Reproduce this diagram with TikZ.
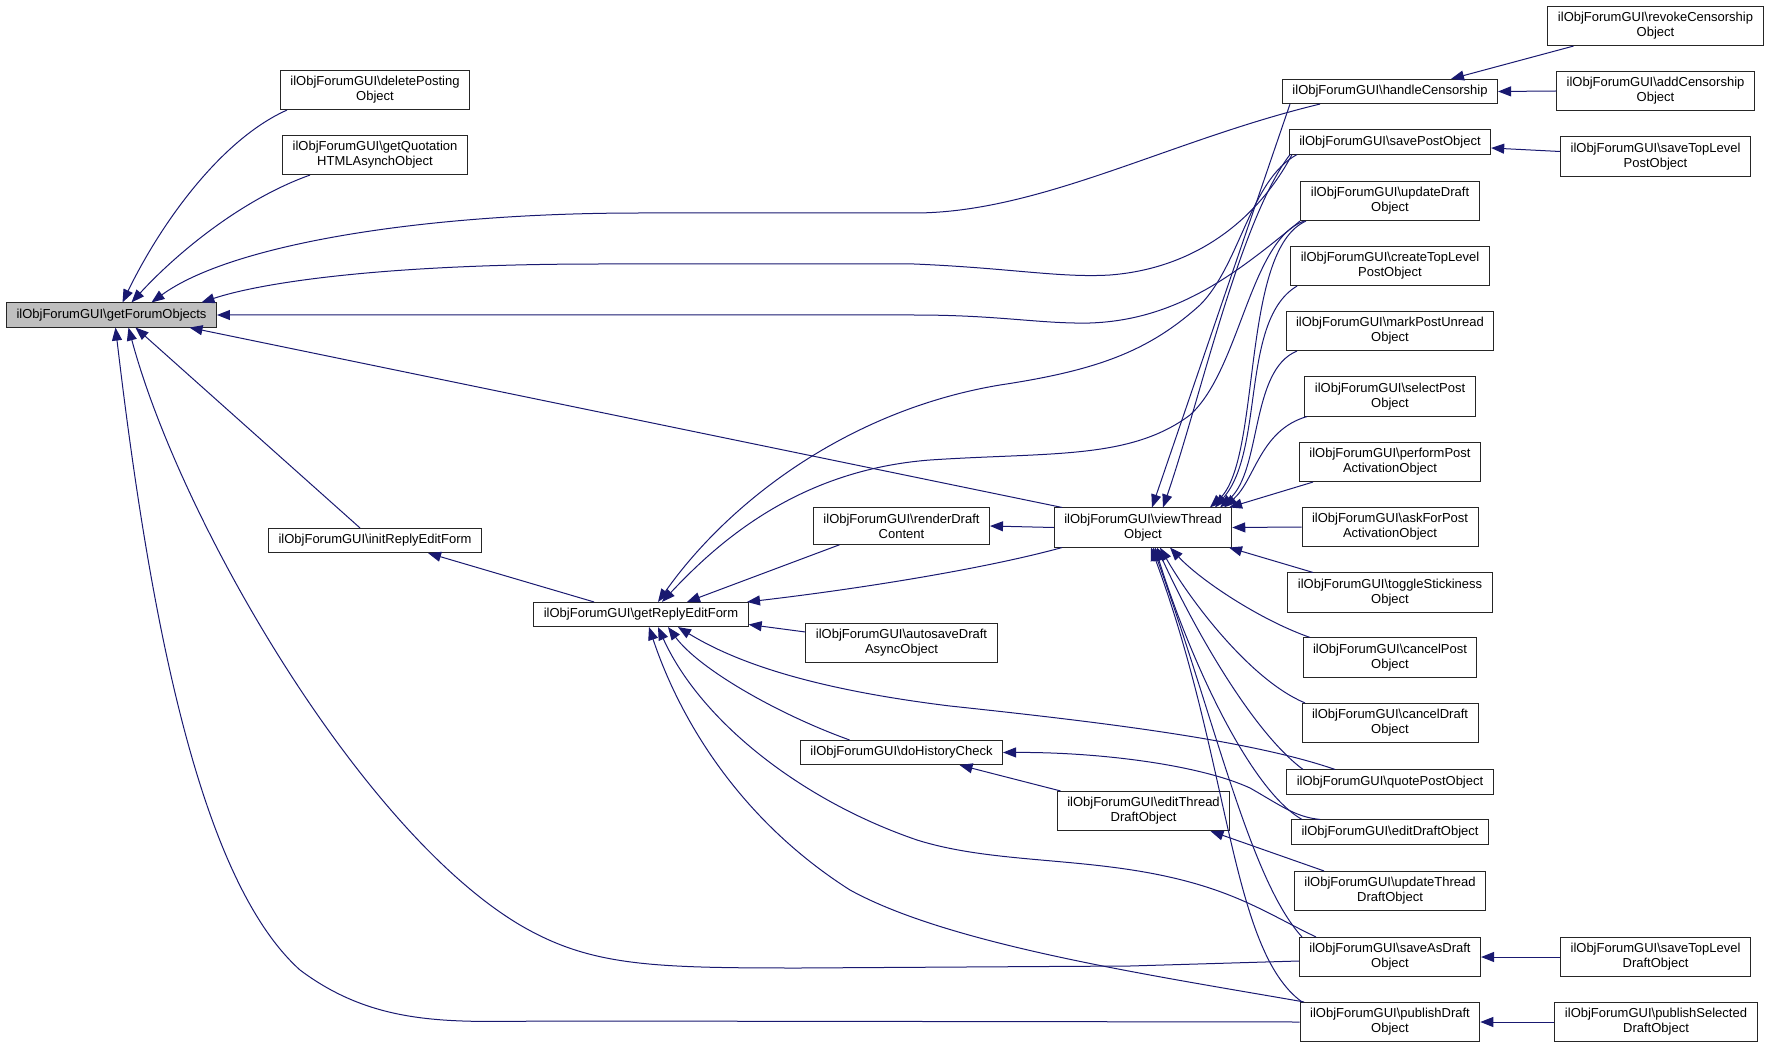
\documentclass[tikz,border=0pt]{standalone}
\usepackage{fontspec}
\setmainfont{Liberation Sans}
\usetikzlibrary{arrows.meta}
\definecolor{edgeblue}{RGB}{25,25,112}
\definecolor{rootgrey}{RGB}{191,191,191}
\newcommand{\fgui}{ilObjForumGUI\textbackslash}
\begin{document}
\begin{tikzpicture}[x=1pt,y=-1pt,
  fn/.style={draw=black!85,line width=1pt,fill=white,align=center,font=\fontsize{13}{15}\selectfont,inner xsep=10pt,inner ysep=6pt},
  call/.style={draw=edgeblue,line width=1pt,{Triangle[length=13pt,width=10pt]}-}]
\useasboundingbox (0,0) rectangle (1771,1048);

\node[fn,fill=rootgrey] (gf) at (111.5,315) {\fgui getForumObjects};
\node[fn] (delpost) at (375,90) {\fgui deletePosting\\Object};
\node[fn] (quotehtml) at (375,155) {\fgui getQuotation\\HTMLAsynchObject};
\node[fn] (initform) at (375,540.5) {\fgui initReplyEditForm};
\node[fn] (replyform) at (641,614.5) {\fgui getReplyEditForm};
\node[fn] (render) at (901.5,526) {\fgui renderDraft\\Content};
\node[fn] (autosave) at (901.5,643) {\fgui autosaveDraft\\AsyncObject};
\node[fn] (history) at (901.5,752.5) {\fgui doHistoryCheck};
\node[fn] (viewthread) at (1143,527.5) {\fgui viewThread\\Object};
\node[fn] (editthread) at (1143.5,811) {\fgui editThread\\DraftObject};
\node[fn] (censor) at (1390,91.5) {\fgui handleCensorship};
\node[fn] (savepost) at (1390,142) {\fgui savePostObject};
\node[fn] (upddraft) at (1390,201) {\fgui updateDraft\\Object};
\node[fn] (createtop) at (1390,266) {\fgui createTopLevel\\PostObject};
\node[fn] (markunread) at (1390,331) {\fgui markPostUnread\\Object};
\node[fn] (selectpost) at (1390,396.5) {\fgui selectPost\\Object};
\node[fn] (performact) at (1390,462) {\fgui performPost\\ActivationObject};
\node[fn] (askact) at (1390,527) {\fgui askForPost\\ActivationObject};
\node[fn] (sticky) at (1390,592.5) {\fgui toggleStickiness\\Object};
\node[fn] (cancelpost) at (1390,657.5) {\fgui cancelPost\\Object};
\node[fn] (canceldraft) at (1390,723) {\fgui cancelDraft\\Object};
\node[fn] (quotepost) at (1390,782) {\fgui quotePostObject};
\node[fn] (editdraft) at (1390,832) {\fgui editDraftObject};
\node[fn] (updthread) at (1390,891) {\fgui updateThread\\DraftObject};
\node[fn] (saveasdraft) at (1390,957) {\fgui saveAsDraft\\Object};
\node[fn] (publish) at (1390,1022) {\fgui publishDraft\\Object};
\node[fn] (revoke) at (1655.5,26) {\fgui revokeCensorship\\Object};
\node[fn] (addcensor) at (1655.5,91) {\fgui addCensorship\\Object};
\node[fn] (savetoppost) at (1655.5,156.5) {\fgui saveTopLevel\\PostObject};
\node[fn] (savetopdraft) at (1655.5,957) {\fgui saveTopLevel\\DraftObject};
\node[fn] (pubselected) at (1656,1022) {\fgui publishSelected\\DraftObject};

\draw[call] ([xshift=11pt]gf.north) .. controls (160,225) and (220,140) .. ([xshift=-88pt]delpost.south);
\draw[call] ([xshift=20pt]gf.north) .. controls (175,255) and (240,200) .. ([xshift=-65pt]quotehtml.south);
\draw[call] ([xshift=40pt]gf.north) .. controls (230,245) and (420,213) .. (640,213) -- (914,213) .. controls (1040,213) and (1170,140) .. ([xshift=-70pt]censor.south);
\draw[call] ([xshift=90pt]gf.north) .. controls (260,283) and (380,264) .. (600,264) -- (914,264) .. controls (1010,268) and (1060,278) .. (1110,275) .. controls (1200,268) and (1260,215) .. ([xshift=-98pt]savepost.south);
\draw[call] (gf.east) -- (914,315) .. controls (1000,315) and (1040,324) .. (1090,323) .. controls (1180,320) and (1240,270) .. ([xshift=-90pt]upddraft.south);
\draw[call] ([xshift=78pt]gf.south) -- ([xshift=-81pt]viewthread.north);
\draw[call] ([xshift=24pt]gf.south) -- ([xshift=-15pt]initform.north);
\draw[call] ([xshift=17pt]gf.south) .. controls (180,520) and (360,830) .. (520,925) .. controls (590,966) and (650,968) .. (800,968) -- (1130,966) -- ([yshift=-4pt]saveasdraft.west);
\draw[call] ([xshift=4pt]gf.south) .. controls (150,620) and (200,880) .. (300,970) .. controls (380,1030) and (460,1021) .. (560,1021) -- (publish.west);

\draw[call] ([xshift=61pt]censor.north) -- ([xshift=-82pt]revoke.south);
\draw[call] (censor.east) -- (addcensor.west);
\draw[call] ([yshift=-6pt]savepost.east) -- ([yshift=5pt]savetoppost.west);
\draw[call] (saveasdraft.east) -- (savetopdraft.west);
\draw[call] (publish.east) -- (pubselected.west);

\draw[call] (render.east) -- (viewthread.west);
\draw[call] ([xshift=9pt]viewthread.north) -- ([xshift=-100pt]censor.south);
\draw[call] ([xshift=20pt]viewthread.north) .. controls (1200,400) and (1240,220) .. ([xshift=-100pt]savepost.south);
\draw[call] ([xshift=67pt]viewthread.north) .. controls (1262,460) and (1240,250) .. ([xshift=-84pt]upddraft.south);
\draw[call] ([xshift=72pt]viewthread.north) .. controls (1265,450) and (1240,320) .. ([xshift=-93pt]createtop.south);
\draw[call] ([xshift=77pt]viewthread.north) .. controls (1262,470) and (1250,370) .. ([xshift=-93pt]markunread.south);
\draw[call] ([xshift=81pt]viewthread.north) .. controls (1255,480) and (1260,430) .. ([xshift=-83pt]selectpost.south);
\draw[call] ([xshift=86pt]viewthread.north) -- ([xshift=-77pt]performact.south);
\draw[call] (viewthread.east) -- (askact.west);
\draw[call] ([xshift=86pt]viewthread.south) -- ([xshift=-77pt]sticky.north);
\draw[call] ([xshift=27pt]viewthread.south) .. controls (1200,580) and (1260,620) .. ([xshift=-80pt]cancelpost.north);
\draw[call] ([xshift=17pt]viewthread.south) .. controls (1190,600) and (1250,680) .. ([xshift=-85pt]canceldraft.north);
\draw[call] ([xshift=14pt]viewthread.south) .. controls (1190,620) and (1250,730) .. ([xshift=-87pt]quotepost.north);
\draw[call] ([xshift=12pt]viewthread.south) .. controls (1190,660) and (1250,790) .. ([xshift=-88pt]editdraft.north);
\draw[call] ([xshift=10pt]viewthread.south) .. controls (1215,720) and (1250,880) .. ([xshift=-88pt]saveasdraft.north);
\draw[call] ([xshift=8pt]viewthread.south) .. controls (1230,760) and (1230,950) .. ([xshift=-88pt]publish.north);

\draw[call] ([xshift=46pt]replyform.north) -- ([xshift=-62pt]render.south);
\draw[call] ([xshift=106pt]replyform.north) .. controls (850,590) and (980,570) .. ([xshift=-81pt]viewthread.south);
\draw[call] ([yshift=-10pt]replyform.east) -- ([yshift=11pt]autosave.west);
\draw[call] ([xshift=53pt]initform.south) -- ([xshift=-47pt]replyform.north);
\draw[call] ([xshift=17pt]replyform.north) .. controls (730,500) and (850,410) .. (1000,385) .. controls (1100,370) and (1150,350) .. (1200,305) .. controls (1240,265) and (1250,180) .. ([xshift=-93pt]savepost.south);
\draw[call] ([xshift=21pt]replyform.north) .. controls (720,540) and (800,470) .. (930,460) .. controls (1050,452) and (1130,460) .. (1190,415) .. controls (1240,370) and (1250,240) .. ([xshift=-86pt]upddraft.south);
\draw[call] ([xshift=27pt]replyform.south) .. controls (700,670) and (780,715) .. ([xshift=-52pt]history.north);
\draw[call] ([xshift=37pt]replyform.south) .. controls (740,665) and (820,690) .. (950,706) .. controls (1100,722) and (1250,740) .. ([xshift=-55pt]quotepost.north);
\draw[call] ([xshift=17pt]replyform.south) .. controls (700,720) and (800,800) .. (917,840) .. controls (1000,866) and (1100,855) .. (1200,885) .. controls (1250,900) and (1280,920) .. ([xshift=-74pt]saveasdraft.north);
\draw[call] ([xshift=8pt]replyform.south) .. controls (680,720) and (740,820) .. (850,890) .. controls (950,945) and (1150,975) .. ([xshift=-86pt]publish.north);

\draw[call] ([xshift=58pt]history.south) -- ([xshift=-83pt]editthread.north);
\draw[call] (history.east) .. controls (1100,752) and (1200,765) .. (1250,788) .. controls (1280,805) and (1295,817) .. ([xshift=-70pt]editdraft.north);
\draw[call] ([xshift=67pt]editthread.south) -- ([xshift=-66pt]updthread.north);
\end{tikzpicture}
\end{document}
